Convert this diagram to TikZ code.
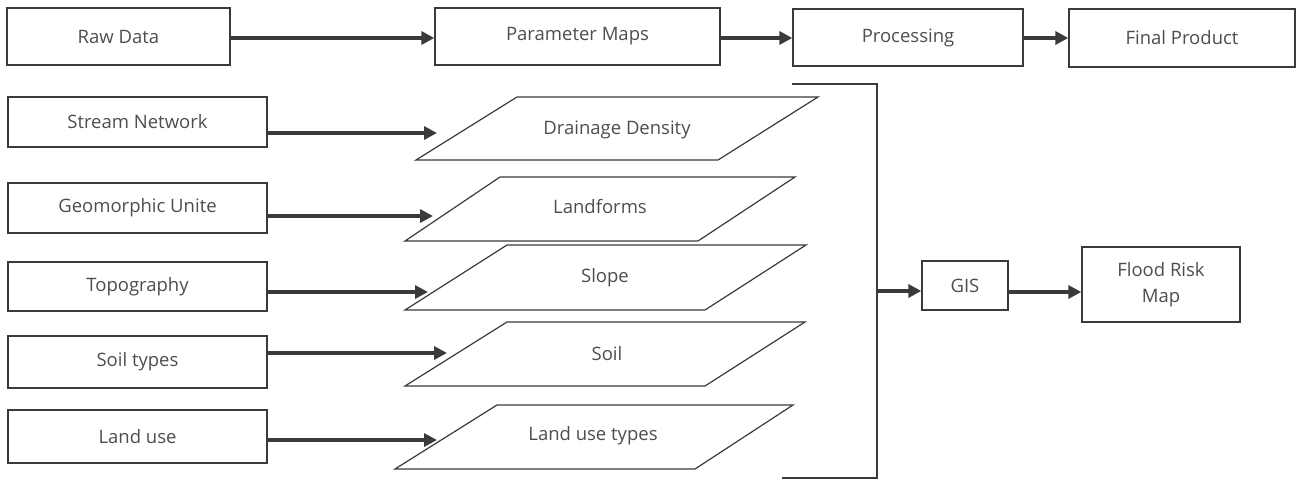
\documentclass[tikz,border=0pt]{standalone}
\usepackage{fontspec}
\setmainfont{Open Sans}
\usetikzlibrary{arrows.meta}
\definecolor{ln}{HTML}{3A3A3A}
\definecolor{tx}{HTML}{4D4D4D}
\begin{document}
\begin{tikzpicture}[x=1pt,y=-1pt,
  box/.style={draw=ln,line width=1.3pt,minimum height=50pt,inner sep=2pt,text=tx,font=\fontsize{18.5}{26}\selectfont,align=center},
  lbl/.style={text=tx,font=\fontsize{18.5}{22}\selectfont,inner sep=1pt},
  para/.style={draw=ln,line width=1.2pt},
  arr/.style={draw=ln,line width=3.5pt,-{Triangle[length=13pt,width=13pt]}},
  brk/.style={draw=ln,line width=2pt}]
\useasboundingbox (0,0) rectangle (1299,482);
% top row
\node[box,minimum width=223pt,minimum height=57pt] (raw) at (118.5,36.5) {Raw Data};
\node[box,minimum width=285pt,minimum height=57pt] (pm) at (577.5,36.5) {Parameter Maps};
\node[box,minimum width=230pt,minimum height=57pt] (proc) at (908,37.5) {Processing};
\node[box,minimum width=226pt,minimum height=58pt] (fin) at (1182,38) {Final Product};
\draw[arr] (raw.east |- 0,38) -- (pm.west |- 0,38);
\draw[arr] (pm.east |- 0,38) -- (proc.west |- 0,38);
\draw[arr] (proc.east |- 0,38) -- (fin.west |- 0,38);
% left boxes
\node[box,minimum width=259pt,minimum height=50pt] (sn) at (137.5,122) {Stream Network};
\node[box,minimum width=259pt,minimum height=50pt] (gu) at (137.5,208) {Geomorphic Unite};
\node[box,minimum width=259pt,minimum height=49pt] (tp) at (137.5,286.5) {Topography};
\node[box,minimum width=259pt,minimum height=52pt] (st) at (137.5,362) {Soil types};
\node[box,minimum width=259pt,minimum height=53pt] (lu) at (137.5,436.5) {Land use};
% parallelograms
\draw[para] (416,160) -- (517,97) -- (818,97) -- (718,160) -- cycle;
\node[lbl] (dd) at (617,130) {Drainage Density};
\draw[para] (405,241) -- (500,177) -- (795,177) -- (698,241) -- cycle;
\node[lbl] (lf) at (600,207) {Landforms};
\draw[para] (405,310) -- (507,245) -- (806,245) -- (705,310) -- cycle;
\node[lbl] (sl) at (605,278) {Slope};
\draw[para] (405,386) -- (507,322) -- (805,322) -- (705,386) -- cycle;
\node[lbl] (so) at (607,354) {Soil};
\draw[para] (395,469) -- (497,405) -- (793,405) -- (695,469) -- cycle;
\node[lbl] (lt) at (593,436) {Land use types};
\coordinate (ddin) at (437,133);
\coordinate (lfin) at (433,216);
\coordinate (slin) at (428,292);
\coordinate (soin) at (447,353);
\coordinate (ltin) at (437,440);
\draw[arr] (sn.east |- ddin) -- (ddin);
\draw[arr] (gu.east |- lfin) -- (lfin);
\draw[arr] (tp.east |- slin) -- (slin);
\draw[arr] (st.east |- soin) -- (soin);
\draw[arr] (lu.east |- ltin) -- (ltin);
% bracket
\coordinate (bt) at (792,84);
\coordinate (bb) at (782,478);
\coordinate (bm) at (877,291);
\draw[brk] (bt) -- (877,84) -- (877,478) -- (bb);
% GIS and Flood map
\node[box,minimum width=86pt,minimum height=49pt] (gis) at (965,285.5) {GIS};
\node[box,minimum width=158pt,minimum height=75pt] (frm) at (1161,284.5) {Flood Risk\\Map};
\draw[arr] (bm) -- (gis.west |- bm);
\draw[arr] (gis.east |- 0,292) -- (frm.west |- 0,292);
\end{tikzpicture}
\end{document}
